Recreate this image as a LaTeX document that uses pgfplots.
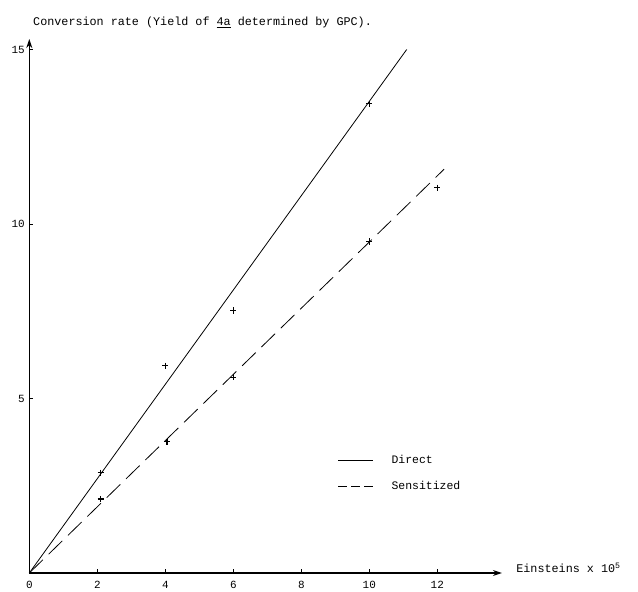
\documentclass[border=0pt]{standalone}
\usepackage{fontspec}
\setmainfont{Liberation Mono}
\setmonofont{Liberation Mono}
\usepackage{pgfplots}
\pgfplotsset{compat=1.18}
\usetikzlibrary{arrows.meta}
\begin{document}
\begin{tikzpicture}
\begin{axis}[
  x=34bp, y=34.9bp,
  xmin=0, xmax=13.9, ymin=0, ymax=15.3,
  axis lines=left,
  axis line style={line width=1.1pt, -{Stealth[length=9bp,width=6bp]}},
  tick align=inside,
  major tick length=4bp,
  tick style={line width=0.9pt, black},
  xtick={0,2,4,6,8,10,12},
  ytick={5,10,15},
  font=\fontsize{11}{13}\selectfont,
  /pgf/number format/assume math mode=true,
  xticklabel style={yshift=-5bp},
  yticklabel style={xshift=-1bp},
  clip=false,
  legend style={at={(axis description cs:0.652,0.222)}, anchor=north west, draw=none, fill=none,
    font=\fontsize{11.5}{13}\selectfont, row sep=14bp, inner sep=0pt,
    nodes={inner xsep=0pt, inner ysep=1pt}},
  legend cell align=left,
]
\coordinate (O) at (axis cs:0,0);
\addplot[black, line width=0.8pt, legend image code/.code={\draw[black, line width=1.1pt] (0bp,0bp) -- (35bp,0bp); \path (53bp,0bp);}] coordinates {(0,0) (11.1,15.0)};
\addlegendentry{Direct}
\addplot[black, line width=0.8pt, dash pattern=on 19bp off 8bp, legend image code/.code={\draw[black, line width=1pt, dash pattern=on 9bp off 4bp] (0bp,0bp) -- (35bp,0bp); \path (53bp,0bp);}] coordinates {(0,0) (12.2,11.57)};
\addlegendentry{Sensitized}
\addplot[only marks, mark=+, mark size=3.2pt, line width=1.1pt, black, forget plot] coordinates {
  (2.1,2.87) (4.0,5.94) (6.0,7.52) (10.0,13.44)};
\addplot[only marks, mark=+, mark size=3.2pt, line width=1.1pt, black, forget plot] coordinates {
  (2.1,2.12) (4.05,3.76) (6.0,5.61) (10.0,9.5) (12.0,11.04)};
\node[anchor=base west, font=\fontsize{11.8}{14}\selectfont, inner sep=0pt] at (axis cs:0.11,15.68) {Conversion rate (Yield of \underline{4a} determined by GPC).};
\node[anchor=west, font=\fontsize{11.8}{14}\selectfont, inner sep=0pt] at (axis cs:14.32,0.15) {Einsteins x 10$^{\mathrm{5}}$};
\end{axis}
\pgfresetboundingbox
\path[use as bounding box] (O) ++(-29.3bp,-19bp) rectangle ++(638bp,592bp);
\end{tikzpicture}
\end{document}
